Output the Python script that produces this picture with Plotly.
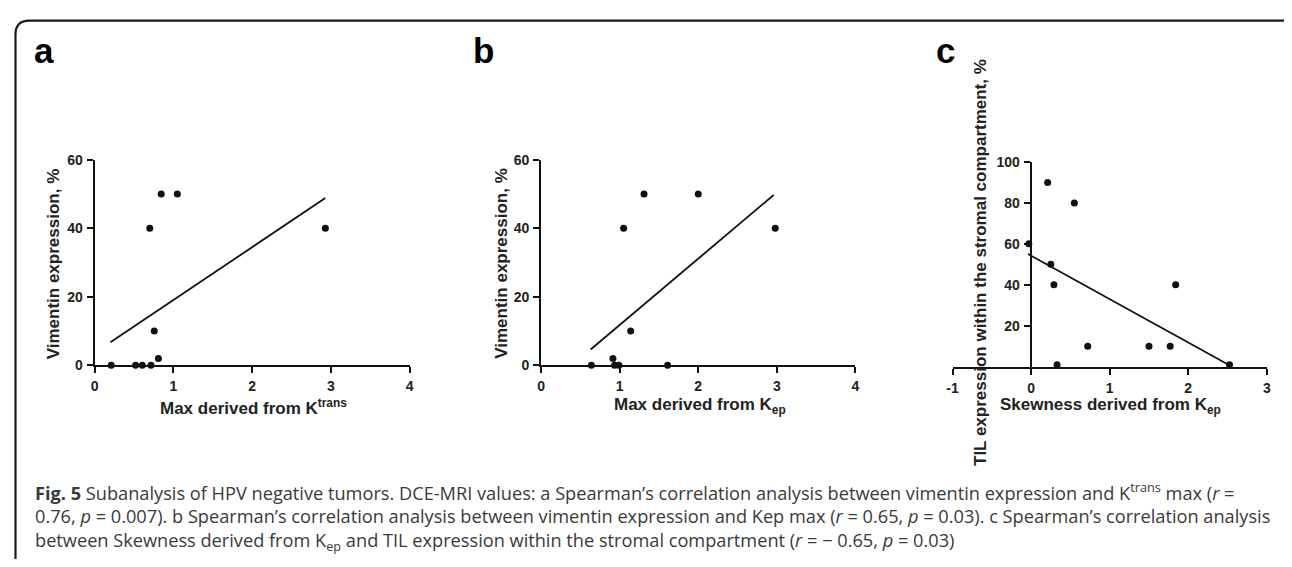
import plotly.graph_objects as go

# ---------------- data ----------------
a_x = [0.21, 0.52, 0.605, 0.715, 0.757, 0.81, 0.70, 0.845, 1.05, 2.93]
a_y = [0, 0, 0, 0, 10, 2, 40, 50, 50, 40]
a_fit_x = [0.20, 2.93]
a_fit_y = [6.7, 48.8]

b_x = [0.64, 0.914, 0.935, 0.99, 1.61, 1.14, 1.05, 1.31, 2.0, 2.98]
b_y = [0, 2, 0, 0, 0, 10, 40, 50, 50, 40]
b_fit_x = [0.63, 2.96]
b_fit_y = [4.6, 49.7]

c_x = [-0.03, 0.21, 0.55, 0.25, 0.29, 0.33, 0.72, 1.50, 1.77, 1.84, 2.525]
c_y = [60, 90, 80, 50, 40, 1, 10, 10, 10, 40, 1]
c_fit_x = [-0.04, 2.53]
c_fit_y = [55.0, 0.6]

ab_xticks = [0, 1, 2, 3, 4]
ab_yticks = [0, 20, 40, 60]
c_xticks = [-1, 0, 1, 2, 3]
c_xticklabels = ["-1", "0", "1", "2", "3"]
c_yticks = [20, 40, 60, 80, 100]

panel_letters = ["a", "b", "c"]
y_titles = ["Vimentin expression, %", "Vimentin expression, %",
            "TIL expression within the stromal compartment, %"]
x_titles = ["Max derived from K<sup>trans</sup>", "Max derived from K<sub>ep</sub>",
            "Skewness derived from K<sub>ep</sub>"]
caption_lines = [
    "<b>Fig. 5</b> Subanalysis of HPV negative tumors. DCE-MRI values: a Spearman\u2019s correlation analysis between vimentin expression and K<sup>trans</sup> max (<i>r</i> =",
    "0.76, <i>p</i> = 0.007). b Spearman\u2019s correlation analysis between vimentin expression and Kep max (<i>r</i> = 0.65, <i>p</i> = 0.03). c Spearman\u2019s correlation analysis",
    "between Skewness derived from K<sub>ep</sub> and TIL expression within the stromal compartment (<i>r</i> = \u2212 0.65, <i>p</i> = 0.03)",
]

# ---------------- layout helpers ----------------
# the page body keeps an 8px margin, so the figure is 1276x551 and sits at (8, 8)
OFF = 8
W, H = 1292 - 2 * OFF, 567 - 2 * OFF
def X(px):
    return (px - OFF) / W
def Y(py):
    return 1 - (py - OFF) / H

INK = "#111111"
AX_FONT = dict(family="Arial, Liberation Sans, sans-serif", size=14, color="#222222", weight="bold")

fig = go.Figure()

def add_panel(xs, ys, fx, fy, xa, ya):
    fig.add_trace(go.Scatter(x=fx, y=fy, mode="lines", xaxis=xa, yaxis=ya,
                             line=dict(color=INK, width=1.8), cliponaxis=False,
                             showlegend=False, hoverinfo="skip"))
    fig.add_trace(go.Scatter(x=xs, y=ys, mode="markers", xaxis=xa, yaxis=ya,
                             marker=dict(color=INK, size=7), cliponaxis=False,
                             showlegend=False))

add_panel(a_x, a_y, a_fit_x, a_fit_y, "x", "y")
add_panel(b_x, b_y, b_fit_x, b_fit_y, "x2", "y2")
add_panel(c_x, c_y, c_fit_x, c_fit_y, "x3", "y3")

axis_common = dict(showgrid=False, zeroline=False, showline=True, linecolor=INK, linewidth=2,
                   ticks="outside", ticklen=6, tickwidth=2, tickcolor=INK,
                   tickfont=AX_FONT, ticklabelstandoff=1, fixedrange=True)

fig.update_layout(
    xaxis=dict(domain=[X(89.3), X(406.7)], range=[0, 4], tickvals=ab_xticks, anchor="y", **axis_common),
    yaxis=dict(domain=[Y(367.7), Y(156)], range=[0, 60], tickvals=ab_yticks, anchor="x", **axis_common),
    xaxis2=dict(domain=[X(539.3), X(856)], range=[0, 4], tickvals=ab_xticks, anchor="y2", **axis_common),
    yaxis2=dict(domain=[Y(367.7), Y(156)], range=[0, 60], tickvals=ab_yticks, anchor="x2", **axis_common),
    xaxis3=dict(domain=[X(954), X(1270.7)], range=[-1, 3], tickvals=c_xticks, ticktext=c_xticklabels,
                anchor="y3", **axis_common),
    yaxis3=dict(domain=[Y(369.2), Y(158.3)], range=[0, 100], tickvals=c_yticks, anchor="free",
                position=X(1032.7), **axis_common),
)

annotations = []
TITLE_FONT = dict(family="Arial, Liberation Sans, sans-serif", size=17, color="#222222", weight="bold")
LETTER_FONT = dict(family="Arial, Liberation Sans, sans-serif", size=35, color="#000000", weight="bold")

for letter, lx in zip(panel_letters, [26, 469, 935]):
    annotations.append(dict(text=letter, x=X(lx), y=Y(44), xref="paper", yref="paper",
                            xanchor="left", yanchor="middle", showarrow=False, font=LETTER_FONT))

for t, cx, cy in zip(y_titles, [48, 499, 982], [263, 263, 262]):
    annotations.append(dict(text=t, x=X(cx), y=Y(cy), xref="paper", yref="paper", textangle=-90,
                            xanchor="center", yanchor="middle", showarrow=False, font=TITLE_FONT))

for t, cx, cy in zip(x_titles, [249, 699, 1113], [411, 410, 410]):
    annotations.append(dict(text=t, x=X(cx), y=Y(cy), xref="paper", yref="paper",
                            xanchor="center", yanchor="middle", showarrow=False, font=TITLE_FONT))

CAP_FONT = dict(family="Open Sans, Noto Sans, sans-serif", size=18.2, color="#3a3a3a")
annotations.append(dict(text="<br>".join(caption_lines), x=X(27), y=Y(523), xref="paper", yref="paper",
                        xanchor="left", yanchor="middle", align="left", showarrow=False, font=CAP_FONT))

fig.update_layout(annotations=annotations)

# rounded frame around the figure
r = 14
x0, x1, y0 = 9.5, 1300, 12.7
path = (f"M {X(x0)} {Y(600)} L {X(x0)} {Y(y0 + r)} Q {X(x0)} {Y(y0)} {X(x0 + r)} {Y(y0)} "
        f"L {X(x1 - r)} {Y(y0)} Q {X(x1)} {Y(y0)} {X(x1)} {Y(y0 + r)} L {X(x1)} {Y(600)}")
fig.add_shape(type="path", path=path, xref="paper", yref="paper",
              line=dict(color="#1a1a1a", width=2.2), layer="above")

fig.update_layout(width=W, height=H, margin=dict(l=0, r=0, t=0, b=0),
                  paper_bgcolor="white", plot_bgcolor="white", showlegend=False)

fig.write_html("out.html", config={"displayModeBar": False})
